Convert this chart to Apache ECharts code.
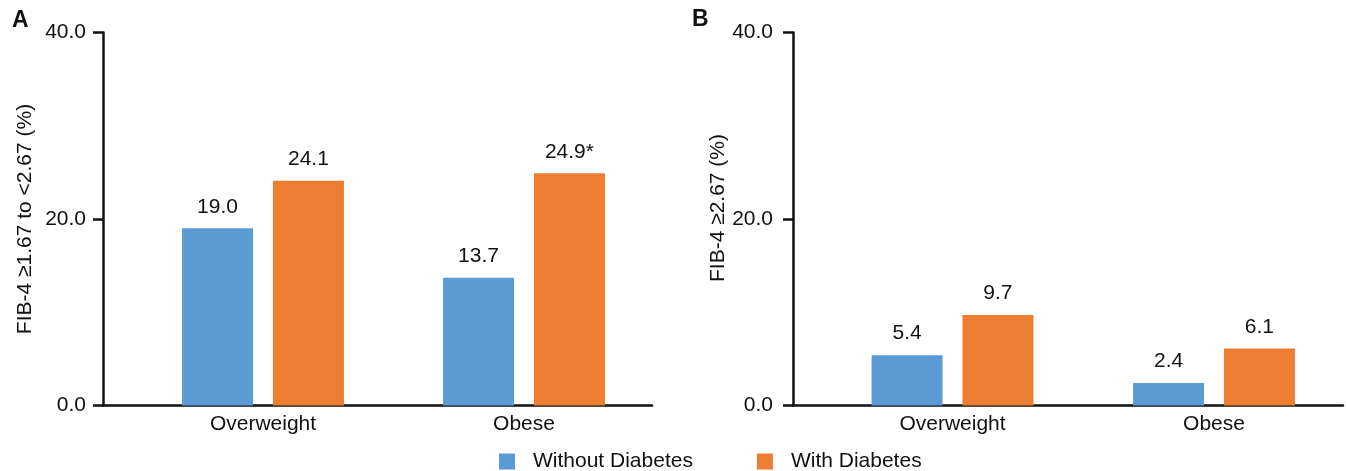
<!DOCTYPE html>
<html>
<head>
<meta charset="utf-8">
<script src="https://cdn.jsdelivr.net/npm/echarts@6/dist/echarts.min.js"></script>
<style>
  html, body { margin: 0; padding: 0; background: #fff; }
  #chart { width: 1346px; height: 471px; }
</style>
</head>
<body>
<div id="chart"></div>
<script>
// Share of patients in each FIB-4 band, by BMI class and diabetes status
const categories = ['Overweight', 'Obese'];
const seriesNames = ['Without Diabetes', 'With Diabetes'];

// Panel A: FIB-4 >=1.67 to <2.67 (%)
const panelAWithout = [19.0, 13.7];
const panelAWith = [24.1, 24.9];
const panelAWithMarks = ['', '*'];

// Panel B: FIB-4 >=2.67 (%)
const panelBWithout = [5.4, 2.4];
const panelBWith = [9.7, 6.1];
const panelBWithMarks = ['', ''];

const yTicks = [0, 20, 40];
const panelTitles = ['FIB-4 \u22651.67 to <2.67 (%)', 'FIB-4 \u22652.67 (%)'];

const FONT = 'Liberation Sans, Arial, Helvetica, sans-serif';
const INK = '#111';
const BLUE = '#5B9BD5';
const ORANGE = '#ED7D31';

function axesX(gridIndex) {
  return {
    gridIndex, type: 'value', min: 0, max: 1,
    axisLine: { show: true, onZero: false, lineStyle: { color: INK, width: 2.5 } },
    axisTick: { show: false }, axisLabel: { show: false }, splitLine: { show: false }
  };
}
function dataX(gridIndex) {
  return {
    gridIndex, type: 'category', data: categories,
    axisLine: { show: false }, axisTick: { show: false },
    axisLabel: { color: INK, fontSize: 21, fontFamily: FONT, margin: 8 }
  };
}
function axesY(gridIndex, name, labelMargin, nameGap, namePad) {
  return {
    gridIndex, type: 'value', min: yTicks[0], max: yTicks[yTicks.length - 1], interval: 20,
    axisLine: { show: true, lineStyle: { color: INK, width: 2.5 } },
    axisTick: { show: true, length: 10, lineStyle: { color: INK, width: 2.5 } },
    axisLabel: { color: INK, fontSize: 21, fontFamily: FONT, margin: labelMargin,
                 formatter: v => v.toFixed(1) },
    splitLine: { show: false },
    name, nameLocation: 'middle', nameGap, nameRotate: 90,
    nameTextStyle: { color: INK, fontSize: 21, fontFamily: FONT, padding: namePad }
  };
}
function dataY(gridIndex) {
  return { gridIndex, type: 'value', min: 0, max: 40, show: false };
}
function barSeries(name, values, marks, axisIndex, color) {
  return {
    name, type: 'bar', xAxisIndex: axisIndex, yAxisIndex: axisIndex,
    data: values, barWidth: 71, barGap: '28%',
    itemStyle: { color },
    label: {
      show: true, position: 'top', distance: 11,
      color: INK, fontSize: 21, fontFamily: FONT,
      formatter: p => p.value.toFixed(1) + (marks ? marks[p.dataIndex] : '')
    }
  };
}

const TOP = 32.5, BOTTOM = 65.5;
const option = {
  animation: false,
  backgroundColor: '#fff',
  textStyle: { fontFamily: FONT },
  title: [
    { text: 'A', left: 12, top: 9, padding: 0,
      textStyle: { fontSize: 23, fontWeight: 'bold', color: INK, fontFamily: FONT } },
    { text: 'B', left: 692, top: 8, padding: 0,
      textStyle: { fontSize: 23, fontWeight: 'bold', color: INK, fontFamily: FONT } }
  ],
  legend: {
    data: seriesNames, left: 499, top: 451, padding: 0,
    icon: 'rect', itemWidth: 16, itemHeight: 16, itemGap: 64,
    textStyle: { color: INK, fontSize: 21, fontFamily: FONT, padding: [0, 0, 0, 13] }
  },
  grid: [
    { left: 103, width: 549, top: TOP, bottom: BOTTOM },
    { left: 132.5, width: 522, top: TOP, bottom: BOTTOM },
    { left: 793, width: 550, top: TOP, bottom: BOTTOM },
    { left: 821.75, width: 523, top: TOP, bottom: BOTTOM }
  ],
  xAxis: [axesX(0), dataX(1), axesX(2), dataX(3)],
  yAxis: [
    axesY(0, panelTitles[0], 17, 67, [0, 0, 0, 0]),
    dataY(1),
    axesY(2, panelTitles[1], 20, 64, [0, 0, 0, 22]),
    dataY(3)
  ],
  series: [
    barSeries(seriesNames[0], panelAWithout, null, 1, BLUE),
    barSeries(seriesNames[1], panelAWith, panelAWithMarks, 1, ORANGE),
    barSeries(seriesNames[0], panelBWithout, null, 3, BLUE),
    barSeries(seriesNames[1], panelBWith, panelBWithMarks, 3, ORANGE)
  ]
};

const chart = echarts.init(document.getElementById('chart'), null, { renderer: 'canvas' });
chart.setOption(option);
</script>
</body>
</html>
